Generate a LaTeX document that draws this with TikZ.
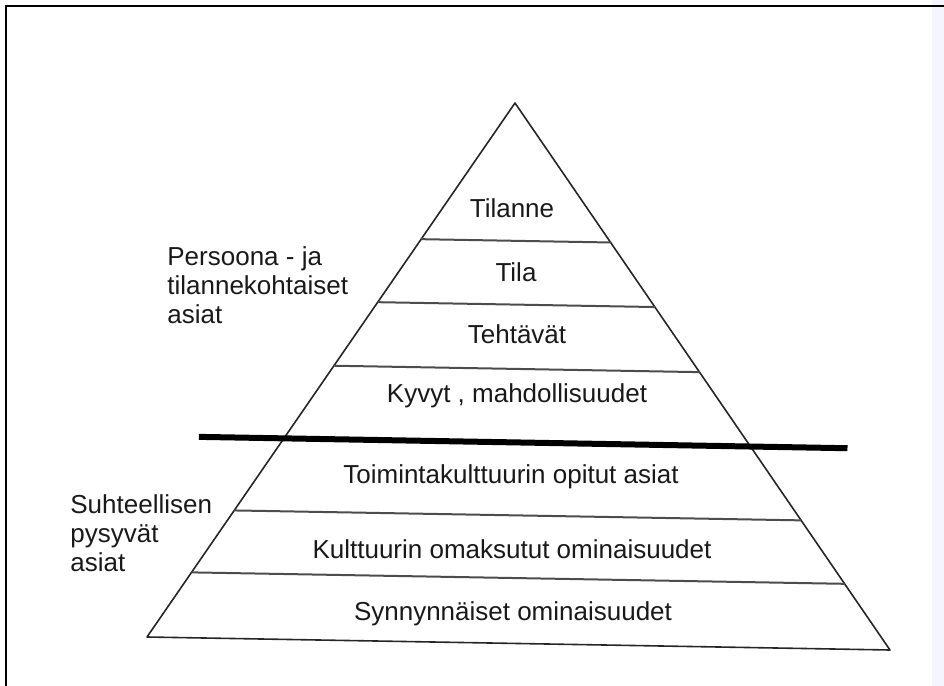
\documentclass[tikz,border=0pt]{standalone}
\usepackage{fontspec}
\setmainfont{Liberation Sans}
\usetikzlibrary{calc}
\begin{document}
\begin{tikzpicture}[x=0.5pt,y=-0.5pt,font=\fontsize{13}{14.5}\selectfont,
  level/.style={draw=black!70,line width=1pt},
  band/.style={anchor=base,text=black!90,inner sep=0pt},
  side/.style={anchor=base west,align=left,text=black!90,inner sep=0pt}]
  \useasboundingbox (0,0) rectangle (944,686);
  \fill[blue!4] (932,0) rectangle (944,686);
  \draw[line width=1pt] (6,686) -- (6,6) -- (944,6);
  \coordinate (top) at (515,103);
  \coordinate (left) at (147,637);
  \coordinate (right) at (890,650);
  \draw[black!85,line width=0.8pt,line join=round] (top) -- (left) -- (right) -- cycle;
  \foreach \f [count=\i] in {0.255,0.373,0.492,0.763,0.879} {
    \coordinate (l\i) at ($(top)!\f!(left)$);
    \coordinate (r\i) at ($(top)!\f!(right)$);
    \draw[level] (l\i) -- (r\i);
  }
  \coordinate (kl) at ($(top)!0.628!(left)$);
  \coordinate (kr) at ($(top)!0.628!(right)$);
  \coordinate (cutw) at ($(kl)!-42.5pt!(kr)$);
  \coordinate (cute) at ($(kr)!-48.5pt!(kl)$);
  \draw[line width=3pt] (cutw) -- (cute);
  \node[band] (tilanne) at (512,217) {Tilanne};
  \node[band] (tila) at (516,281) {Tila};
  \node[band] (tehtavat) at (517,343) {Tehtävät};
  \node[band] (kyvyt) at (517,402) {Kyvyt , mahdollisuudet};
  \node[band] (toiminta) at (511,483) {Toimintakulttuurin opitut asiat};
  \node[band] (kulttuuri) at (512,558) {Kulttuurin omaksutut ominaisuudet};
  \node[band] (synnyn) at (513,620) {Synnynnäiset ominaisuudet};
  \node[side] (persoona) at (167,323) {Persoona - ja\\tilannekohtaiset\\asiat};
  \node[side] (pysyvat) at (70,571) {Suhteellisen\\pysyvät\\asiat};
\end{tikzpicture}
\end{document}
